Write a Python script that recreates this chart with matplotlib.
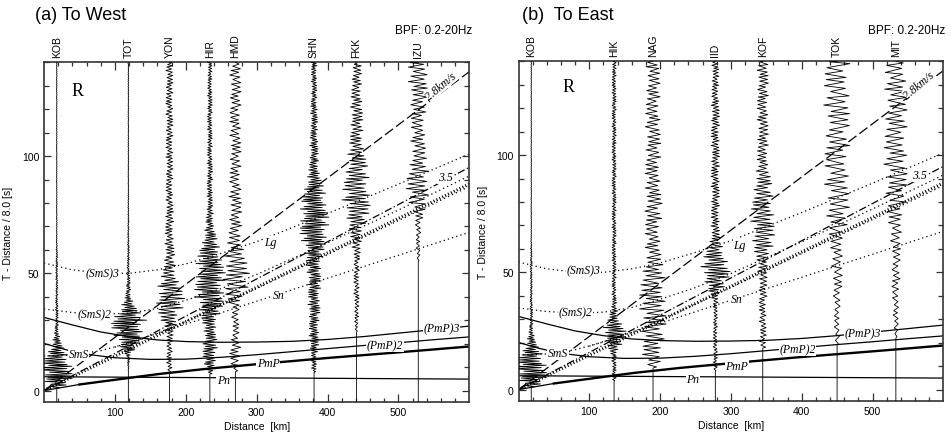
import numpy as np
import matplotlib
matplotlib.use("Agg")
import matplotlib.pyplot as plt

plt.rcParams['font.family'] = ['Liberation Sans', 'DejaVu Sans']

# ---------------- data ----------------
env_time = [0, 5, 10, 15, 20, 25, 30, 35, 40, 45, 50, 55, 60, 65, 70,
            75, 80, 85, 90, 95, 100, 105, 110, 115, 120, 125, 130, 135, 140]

west_names = ["KOB", "TOT", "YON", "HIR", "HMD", "SHN", "FKK", "IZU"]
west_dist = [18, 119, 177, 234, 270, 381, 441, 528]
west_start = [1, 8, 7.8, 7, 8, 7.8, 25, 55]

east_names = ["KOB", "HIK", "NAG", "IID", "KOF", "TOK", "MIT"]
east_dist = [18, 135, 190, 278, 345, 450, 533]
east_start = [1, 3.5, 9.2, 7.8, 17.7, 19, 22]

# envelope (half amplitude, km) of each trace at env_time
env_KOB = [5, 22, 24, 16, 7, 3, 2, 2, 1.5, 1.5, 1.5, 1.5, 1, 0.5, 0.5, 0.5,
           0.4, 0.4, 0.4, 0.4, 0.4, 0.4, 0.4, 0.4, 0.4, 0.4, 0.4, 0.4, 0.4]
env_TOT = [0, 0, 0.7, 3, 16, 22, 26, 12, 4, 3, 2, 1.5, 1.5, 1, 1, 0.7, 0.7,
           0.5, 0.5, 0.5, 0.5, 0.5, 0.5, 0.5, 0.5, 0.5, 0.5, 0.5, 0.5]
env_YON = [0, 0, 4, 4, 4, 6, 12, 19, 22, 16, 10, 8, 7, 6, 6, 6, 5, 5, 5, 5,
           5, 5, 5, 5, 5, 5, 5, 5, 5]
env_HIR = [0, 0, 7, 10, 11, 8, 11, 17, 22, 21, 22, 19, 15, 10, 6, 5, 4, 4, 4,
           4, 3.5, 3.5, 3.5, 3.5, 3.5, 3.5, 3, 3, 3]
env_HMD = [0, 0, 5, 9, 7, 5, 5, 6, 13, 19, 20, 17, 13, 10, 9, 9, 9, 9,
           8, 8, 8, 8, 8, 8, 8, 8, 8, 8, 8]
env_SHN = [0, 0, 4, 4, 7, 7, 7, 9, 8, 10, 10, 11, 14, 19, 21, 21, 18, 16, 10,
           7, 6, 6, 5, 5, 5, 4, 4, 4, 4]
env_FKK = [0, 0, 0, 0, 0, 1.5, 3, 3, 4, 4, 4, 4, 6, 8, 11, 17, 21, 20, 18, 16,
           13, 10, 9, 9, 9, 8, 7, 7, 7]
env_IZU = [0, 0, 0, 0, 0, 0, 0, 0, 0, 0, 0, 1.5, 3, 3, 4, 7, 13, 17, 17, 14,
           11, 11, 10, 10, 11, 13, 14, 14, 14]
env_HIK = [0, 3, 3, 4, 12, 18, 8, 4, 3, 3, 3, 3, 3, 3, 3, 3, 3, 3, 3, 3, 3, 3,
           3, 3, 3, 3, 3, 3, 3]
env_NAG = [0, 0, 9, 15, 15, 18, 19, 19, 19, 18, 16, 13, 11, 11, 11, 13, 13,
           11, 11, 11, 11, 11, 11, 11, 10, 10, 10, 10, 10]
env_IID = [0, 0, 3, 3, 3, 3, 3, 3, 6, 15, 22, 19, 11, 7, 6, 6, 6, 6, 6, 6, 6,
           6, 6, 6, 6, 5, 5, 5, 5]
env_KOF = [0, 0, 0, 3, 5, 5, 5, 5, 6, 6, 7, 8, 14, 17, 17, 17, 15, 14, 12, 8,
           8, 8, 8, 8, 8, 8, 8, 8, 8]
env_TOK = [0, 0, 0, 0, 3, 4, 4, 4, 6, 7, 8, 8, 9, 11, 14, 17, 18, 18, 18,
           17, 18, 18, 17, 18, 19, 19, 18, 18, 18]
env_MIT = [0, 0, 0, 0, 0, 3, 4, 4, 5, 6, 6, 6, 7, 8, 10, 12, 14, 16, 17, 17,
           17, 16, 16, 16, 16, 16, 16, 15, 15]

# travel-time curves (distance km, reduced time s)
pn_d = [0, 600]
pn_t = [5.9, 4.9]
pg_d = [0, 50]
pg_t = [0, 2.6]
pmp_d = [50, 100, 163, 230, 313, 400, 500, 600]
pmp_t = [2.6, 4.6, 7.1, 9.3, 11.6, 13.9, 16.3, 18.8]
pmp2_d = [0, 30, 60, 100, 150, 200, 250, 300, 350, 400, 450, 500, 550, 600]
pmp2_t = [20.1, 17.5, 15.5, 14, 13.3, 13.4, 14.2, 15.3, 16.6, 17.9, 19.2, 20.4, 21.7, 22.9]
pmp3_d = [0, 40, 80, 120, 160, 200, 250, 300, 350, 400, 450, 500, 550, 600]
pmp3_t = [31.2, 28, 25, 23, 21.6, 20.9, 20.6, 20.7, 21.0, 21.8, 23, 24.5, 26, 27.5]
sms_d = [0, 40, 80, 120, 160, 200, 300, 400, 500, 600]
sms_t = [14.8, 15.2, 17, 20.3, 24.5, 29.5, 43.5, 58, 72.5, 87]
sms2_d = [0, 40, 80, 120, 160, 200, 250, 300, 400, 500, 600]
sms2_t = [34.8, 33.3, 32.6, 33, 35, 38.5, 43.5, 49.5, 63, 77, 91.5]
sms3_d = [0, 40, 80, 120, 160, 200, 250, 300, 400, 500, 600]
sms3_t = [54.4, 51.5, 50.1, 50, 51.5, 54, 58.5, 63.5, 75.5, 88, 100.9]
sn_d = [100, 600]
sn_t = [18.5, 67.5]
v28_d = [0, 600]
v28_t = [0, 136]
v35_d = [0, 600]
v35_t = [0, 95.2]
sg_d = [0, 600]
sg_t = [0, 88.1]

# ---------------- drawing ----------------
W, H = 951, 439
fig = plt.figure(figsize=(W / 100, H / 100), dpi=100)
ax1 = fig.add_axes([44 / W, 1 - 403.3 / H, (469.3 - 44) / W, 340 / H])
ax2 = fig.add_axes([518.5 / W, 1 - 402.3 / H, (943.3 - 518.5) / W, 340 / H])

YMIN, YMAX = -5, 140
amp_pattern = np.array([1.0, 0.55, 0.85, 0.7, 0.95, 0.45, 0.8, 1.0, 0.6,
                        0.75, 0.9, 0.5, 0.65])
dur_pattern = np.array([1.0, 0.7, 1.3, 0.85, 1.15, 0.6, 1.2, 0.9, 1.4, 0.75,
                        1.05])


def wiggle(ax, d, start, env, rate):
    n = int((YMAX - start) * rate * 1.2) + 5
    k = np.arange(n)
    durs = dur_pattern[(k * 3 + len(env)) % len(dur_pattern)] / rate
    tp = start + np.cumsum(durs) - durs[0] / 2
    tp = tp[tp < YMAX]
    k = np.arange(len(tp))
    amp = np.interp(tp, env_time, env)
    x = d + amp * ((-1.0) ** k) * amp_pattern[(k + int(d)) % len(amp_pattern)]
    xs = np.concatenate([[d, d], x, [d]])
    ts = np.concatenate([[YMIN, start], tp, [YMAX]])
    ax.plot(xs, ts, color='black', lw=0.6, zorder=3)


rates = {"KOB": 2.0, "TOT": 2.0, "YON": 1.4, "HIR": 1.8, "HMD": 1.0,
         "SHN": 1.9, "FKK": 1.3, "IZU": 1.0, "HIK": 1.8, "NAG": 1.0,
         "IID": 1.5, "KOF": 1.2, "TOK": 0.75, "MIT": 0.8}
envs = {"KOB": env_KOB, "TOT": env_TOT, "YON": env_YON, "HIR": env_HIR,
        "HMD": env_HMD, "SHN": env_SHN, "FKK": env_FKK, "IZU": env_IZU,
        "HIK": env_HIK, "NAG": env_NAG, "IID": env_IID, "KOF": env_KOF,
        "TOK": env_TOK, "MIT": env_MIT}

dot = (0, (1, 2.5))
curves = [
    (pn_d, pn_t, dict(ls='-', lw=0.9)),
    (pg_d, pg_t, dict(ls='-', lw=0.9)),
    (pmp_d, pmp_t, dict(ls='-', lw=1.7)),
    (pmp2_d, pmp2_t, dict(ls='-', lw=0.9)),
    (pmp3_d, pmp3_t, dict(ls='-', lw=0.9)),
    (sms_d, sms_t, dict(ls=dot, lw=0.9)),
    (sms2_d, sms2_t, dict(ls=dot, lw=0.9)),
    (sms3_d, sms3_t, dict(ls=dot, lw=0.9)),
    (sn_d, sn_t, dict(ls=dot, lw=0.9)),
    (v28_d, v28_t, dict(ls=(0, (8, 3)), lw=0.9)),
    (v35_d, v35_t, dict(ls=(0, (6, 2, 1, 2)), lw=0.9)),
    (sg_d, sg_t, dict(ls=(0, (0.35, 0.7)), lw=2.2)),
]

lab_style = dict(family=['Liberation Serif', 'DejaVu Serif'], style='italic',
                 fontsize=8.5, ha='center', va='center', zorder=5,
                 bbox=dict(fc='white', ec='none', pad=0.4))

west_labels = [("Pn", 253, 4.6), ("PmP", 316, 11.6), ("(PmP)2", 481, 19.1),
               ("(PmP)3", 561, 26.7), ("SmS", 49, 15.4), ("(SmS)2", 71, 32.6),
               ("(SmS)3", 83, 50.1), ("Sn", 331, 40.9), ("Lg", 319, 63.2),
               ("3.5", 566, 90.9)]
east_labels = [("Pn", 246, 4.3), ("PmP", 308, 9.9), ("(PmP)2", 394, 17.1),
               ("(PmP)3", 486, 24.2), ("SmS", 56, 15.6), ("(SmS)2", 80, 33.0),
               ("(SmS)3", 92, 50.9), ("Sn", 308, 38.8), ("Lg", 312, 61.8),
               ("3.5", 566, 91.4)]

panels = [
    (ax1, west_names, west_dist, west_start, west_labels, (47, 127.8),
     "(a) To West", 35, 472),
    (ax2, east_names, east_dist, east_start, east_labels, (70, 129.3),
     "(b)  To East", 522, 945),
]

for ax, names, dists, starts, labels, rpos, title, tx, bx in panels:
    for d, t, kw in curves:
        ax.plot(d, t, color='black', zorder=2, **kw)
    for name, d, s in zip(names, dists, starts):
        wiggle(ax, d, s, envs[name], rates[name])
        ax.annotate(name, xy=(d, 1), xycoords=('data', 'axes fraction'),
                    xytext=(0, 4), textcoords='offset points', rotation=90,
                    ha='center', va='bottom', fontsize=7.5)
    for txt, d, t in labels:
        ax.text(d, t, txt, **lab_style)
    ax.text(566 if ax is ax2 else 560, 130, "2.8km/s", rotation=40,
            family=['Liberation Serif', 'DejaVu Serif'], style='italic',
            fontsize=8.5, ha='center', va='center', zorder=5,
            bbox=dict(fc='white', ec='none', pad=0.2))
    ax.text(rpos[0], rpos[1], "R", family=['Liberation Serif', 'DejaVu Serif'],
            fontsize=13, ha='center', va='center', zorder=5)

    ax.set_xlim(0, 600)
    ax.set_ylim(YMIN, YMAX)
    ax.set_xticks([100, 200, 300, 400, 500])
    ax.set_xticks(range(20, 600, 20), minor=True)
    ax.set_yticks([0, 50, 100])
    ax.set_yticks(range(-0, 141, 10), minor=True)
    ax.tick_params(which='both', direction='in', top=True, right=True,
                   labelsize=7.5, color='#333333', width=0.9)
    ax.tick_params(which='major', axis='x', length=5.5)
    ax.tick_params(which='minor', axis='x', length=3)
    ax.tick_params(which='major', axis='y', length=5)
    ax.tick_params(which='minor', axis='y', length=3.5)
    for sp in ax.spines.values():
        sp.set_color('#333333')
        sp.set_linewidth(1.2)
    ax.set_xlabel("Distance  [km]", fontsize=7.5, labelpad=3)
    ax.set_ylabel("T - Distance / 8.0 [s]", fontsize=7.5, labelpad=6)

    fig.text(tx / W, 1 - 15 / H, title, fontsize=13, ha='left', va='center')
    fig.text(bx / W, 1 - 31 / H, "BPF: 0.2-20Hz", fontsize=8.5, ha='right',
             va='center')

fig.savefig("out.png", dpi=100)
